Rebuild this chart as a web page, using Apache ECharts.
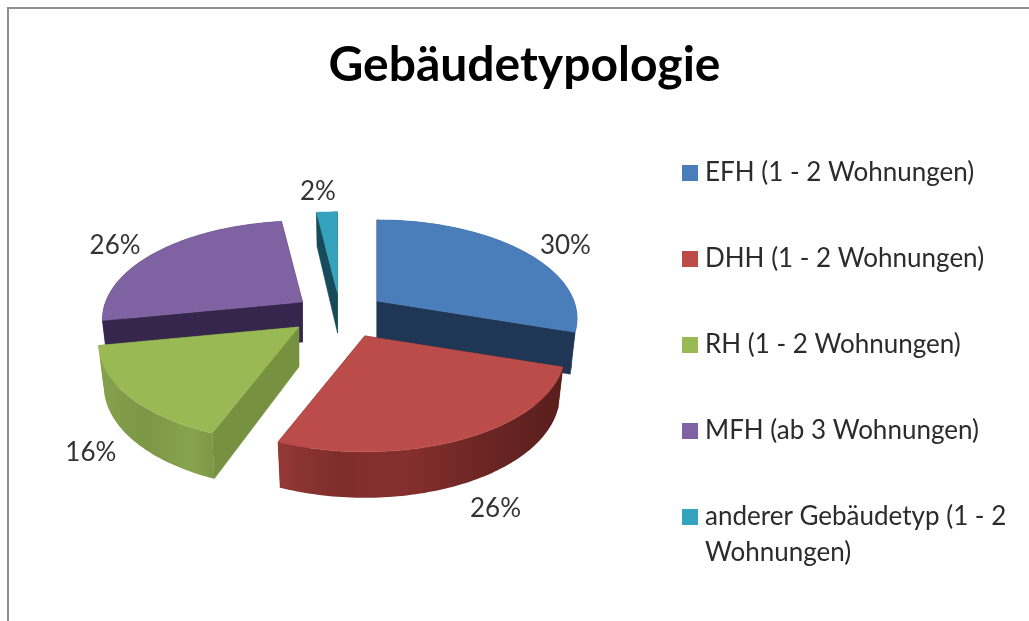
<!DOCTYPE html>
<html>
<head>
<meta charset="utf-8">
<style>html,body{margin:0;padding:0;background:#fff}#c{width:1029px;height:621px;filter:blur(0.5px)}</style>
<script src="https://cdn.jsdelivr.net/npm/echarts@6/dist/echarts.min.js"></script>
</head>
<body>
<div id="c"></div>
<script>
const categories = ['EFH (1 - 2 Wohnungen)', 'DHH (1 - 2 Wohnungen)', 'RH (1 - 2 Wohnungen)', 'MFH (ab 3 Wohnungen)', 'anderer Gebäudetyp (1 - 2\nWohnungen)'];
const shares = [30, 26, 16, 26, 2];

const topColors = ['#4a7ebb', '#bc4c49', '#98b954', '#7f62a1', '#35a3bd'];
const innerColors = ['#1f3654', '#5f201f', '#76913f', '#36264e', '#174a5b'];
const outerStops = [
  [[0, '#1f3654'], [1, '#1f3654']],
  [[0, '#943836'], [0.2, '#7f2e2c'], [0.45, '#852f2e'], [0.75, '#6a2523'], [1, '#591e1d']],
  [[0, '#85a24c'], [0.4, '#7c9747'], [0.8, '#86a44d'], [1, '#7c9747']],
  [[0, '#36264e'], [1, '#36264e']],
  [[0, '#174a5b'], [1, '#174a5b']]
];
const drawZ = [3, 5, 4, 2, 1];
const tipNudge = [[-1, -1], [5, 1], [-4, -2], [1.5, 0], [1, 0]];
const labelNudge = [[44, -5], [31, 70], [-37, 57], [-43, -6], [-9, -20]];

const CX = 339.5, CY = 315, EX = 47.6, EY = 22;
const RX = 197, RY = 95.5, K = 0.176, DEPTH = 40, BOTTOM = 0.975;
const LABEL_FONT = 'Lato, "Open Sans", sans-serif';
const total = shares.reduce((a, b) => a + b, 0);

function pt(tip, ang, bottom) {
  const u = Math.sin(ang), v = -Math.cos(ang);
  const s = 1 / (1 - K * v);
  const sc = bottom ? BOTTOM : 1;
  return [tip[0] + RX * u * s * sc,
          tip[1] + RY * v * s + (bottom ? DEPTH * (1 + 0.15 * v) : 0)];
}

function makeRender(i) {
  return function (params, api) {
    const value = api.value(0);
    let before = 0;
    for (let j = 0; j < i; j++) before += shares[j];
    const a0 = before / total * Math.PI * 2;
    const a1 = (before + value) / total * Math.PI * 2;
    const mid = (a0 + a1) / 2;
    const tip = [CX + EX * Math.sin(mid) + tipNudge[i][0], CY - EY * Math.cos(mid) + tipNudge[i][1]];
    const tipLow = [tip[0], tip[1] + DEPTH];
    const n = Math.max(4, Math.round((a1 - a0) / 0.02));
    const arcTop = [], arcLow = [];
    for (let k = 0; k <= n; k++) {
      const a = a0 + (a1 - a0) * k / n;
      arcTop.push(pt(tip, a, false));
      arcLow.push(pt(tip, a, true));
    }
    const flat = c => ({ fill: c, stroke: c, lineWidth: 0.5 });
    const quad = (ta, la) => ({
      type: 'polygon',
      shape: { points: [tip, ta, la, tipLow] },
      style: flat(innerColors[i])
    });
    const mp = pt(tip, mid, false);
    return {
      type: 'group',
      children: [
        quad(arcTop[0], arcLow[0]),
        quad(arcTop[n], arcLow[n]),
        {
          type: 'polygon',
          shape: { points: arcTop.concat(arcLow.slice().reverse()) },
          style: {
            fill: {
              type: 'linear', x: 0, y: 0, x2: 1, y2: 0,
              colorStops: outerStops[i].map(s => ({ offset: s[0], color: s[1] }))
            }
          }
        },
        {
          type: 'polygon',
          shape: { points: [tip].concat(arcTop) },
          style: flat(topColors[i])
        },
        {
          type: 'text',
          style: {
            text: value + '%',
            x: mp[0] + labelNudge[i][0],
            y: mp[1] + labelNudge[i][1],
            fill: '#333333',
            fontFamily: LABEL_FONT,
            fontSize: 26,
            align: 'center',
            verticalAlign: 'middle'
          }
        }
      ]
    };
  };
}

const series = categories.map((name, i) => ({
  type: 'custom',
  name: name,
  coordinateSystem: 'none',
  renderItem: makeRender(i),
  data: [[shares[i]]],
  z: drawZ[i],
  silent: true,
  itemStyle: { color: topColors[i] }
}));

const legendText = { fontFamily: LABEL_FONT, fontSize: 26, color: '#2b2b2b', lineHeight: 36 };

const option = {
  animation: false,
  backgroundColor: '#fff',
  title: {
    text: 'Gebäudetypologie',
    left: 519.5,
    top: 37,
    textAlign: 'center',
    textStyle: { fontFamily: LABEL_FONT, fontWeight: 'bold', fontSize: 48, color: '#000' }
  },
  legend: [
    {
      orient: 'vertical',
      left: 682,
      top: 155,
      padding: 0,
      icon: 'path://M0 0H16V16H0ZM18 16H18V16Z',
      itemWidth: 18,
      itemHeight: 16,
      itemGap: 50,
      selectedMode: false,
      data: categories.slice(0, 4),
      textStyle: legendText
    },
    {
      orient: 'vertical',
      left: 682,
      top: 499,
      padding: 0,
      icon: 'path://M0 0H16V16H0ZM18 52H18V52Z',
      itemWidth: 18,
      itemHeight: 52,
      selectedMode: false,
      data: categories.slice(4),
      textStyle: legendText
    }
  ],
  graphic: [
    { type: 'rect', shape: { x: 7, y: 7, width: 1022, height: 2 }, style: { fill: '#8f8f8f' }, silent: true },
    { type: 'rect', shape: { x: 7, y: 7, width: 2, height: 614 }, style: { fill: '#8f8f8f' }, silent: true }
  ],
  series: series
};

echarts.init(document.getElementById('c'), null, { renderer: 'canvas' }).setOption(option);
</script>
</body>
</html>
